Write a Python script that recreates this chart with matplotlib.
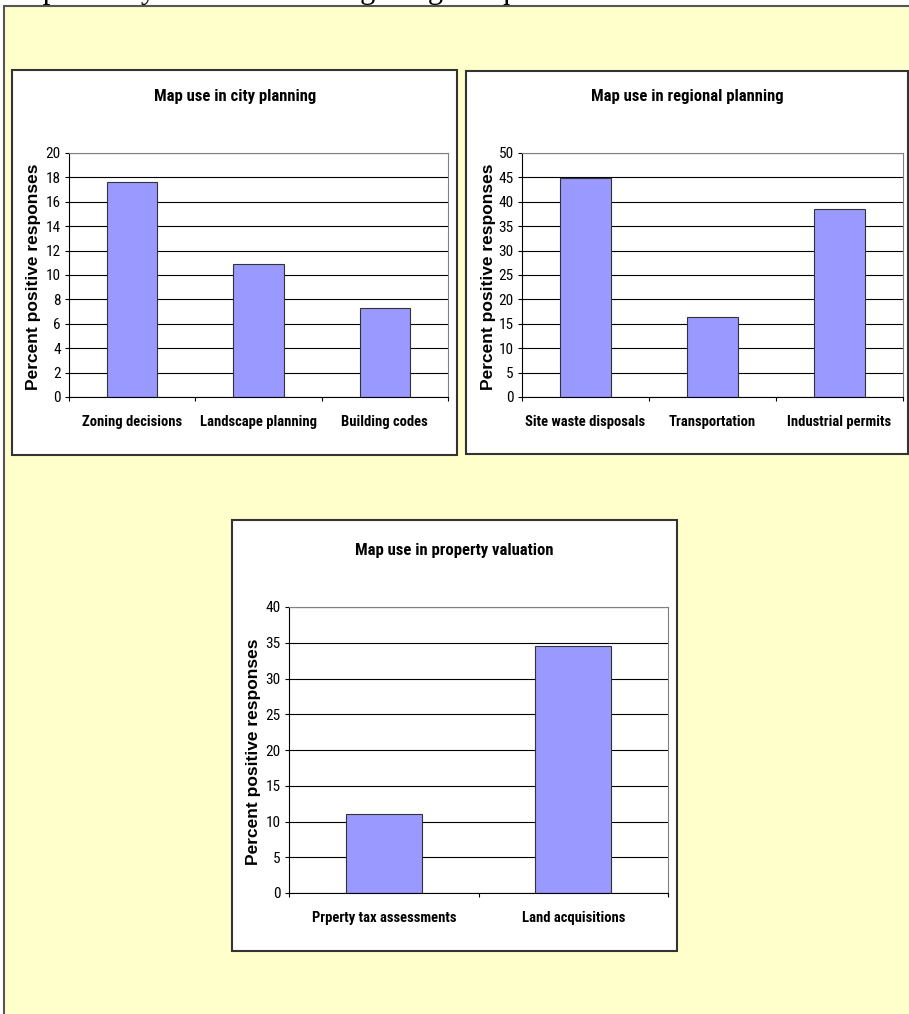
import matplotlib
matplotlib.use("Agg")
import matplotlib.pyplot as plt
from matplotlib import font_manager
from matplotlib.font_manager import FontProperties
from matplotlib.patches import Rectangle
import numpy as np

# --- data -------------------------------------------------------------
city_categories = ["Zoning decisions", "Landscape planning", "Building codes"]
city_values = [17.6, 10.9, 7.3]

regional_categories = ["Site waste disposals", "Transportation", "Industrial permits"]
regional_values = [44.9, 16.3, 38.5]

property_categories = ["Prperty tax assessments", "Land acquisitions"]
property_values = [11.0, 34.5]

y_label = "Percent positive responses"
header_text = "Map uses by the value of the geological qualities."

# --- fonts: prefer a narrow sans face for the chart text -------------
def _is_bold(f):
    w = f.weight
    if isinstance(w, str):
        return w in ("bold", "heavy", "extra bold", "black", "semibold", "demibold")
    return w >= 600


def narrow_font(bold):
    prefs = ["Liberation Sans Narrow", "Arial Narrow", "Roboto Condensed",
             "Open Sans Condensed", "DejaVu Sans"]
    cands = []
    for f in font_manager.fontManager.ttflist:
        condensed = (f.stretch in ("condensed", "semi-condensed", "extra-condensed")
                     or "Narrow" in f.name or "Condensed" in f.name
                     or "Condensed" in f.fname)
        if not condensed or f.style != "normal" or _is_bold(f) != bold:
            continue
        rank = prefs.index(f.name) if f.name in prefs else len(prefs)
        cands.append((rank, f.fname))
    if cands:
        cands.sort()
        return FontProperties(fname=cands[0][1]), 1.0
    return FontProperties(family=["Liberation Sans", "DejaVu Sans"],
                          weight="bold" if bold else "normal"), 0.84


FONT_REG, SCALE_REG = narrow_font(False)
FONT_BOLD, SCALE_BOLD = narrow_font(True)

BAR_COLOR = "#9999FF"
PAGE_COLOR = "#FFFFCC"

W, H = 909, 1014
fig = plt.figure(figsize=(W / 100, H / 100), dpi=100)
fig.patch.set_facecolor("white")


def fx(x):
    return x / W


def fy(y):
    return 1 - y / H


def box(x0, y0, x1, y1, **kw):
    r = Rectangle((fx(x0), fy(y1)), (x1 - x0) / W, (y1 - y0) / H,
                  transform=fig.transFigure, **kw)
    fig.add_artist(r)


def sized(fp, scale, size):
    p = fp.copy()
    p.set_size(size * scale)
    return p


# page background with its frame
box(4, 6, 915, 1025, facecolor=PAGE_COLOR, edgecolor="#555555", linewidth=1.5, zorder=0)

# line of body text running off the top of the page
fig.text(fx(2), fy(-1.5), header_text, family=["Liberation Serif", "DejaVu Serif"],
         fontsize=22, ha="left", va="baseline")


def panel(frame, plot, title_xy, ylab_xy, title, cats, vals, ymax, ystep):
    box(*frame, facecolor="white", edgecolor="#333333", linewidth=1.5, zorder=1)
    x0, y0, x1, y1 = plot
    ax = fig.add_axes([fx(x0), fy(y1), (x1 - x0) / W, (y1 - y0) / H])
    ax.set_zorder(2)
    pos = np.arange(len(cats))
    ax.bar(pos, vals, width=0.4, color=BAR_COLOR, edgecolor="#333333",
           linewidth=0.8, zorder=2)
    ax.set_xlim(-0.5, len(cats) - 0.5)
    ax.set_ylim(0, ymax)
    ticks = np.arange(0, ymax + ystep / 2, ystep)
    ax.set_yticks(ticks)
    ax.set_yticklabels([f"{t:g}" for t in ticks], fontproperties=sized(FONT_REG, SCALE_REG, 11))
    ax.yaxis.grid(True, color="black", linewidth=0.8)
    ax.set_axisbelow(True)
    ax.set_facecolor("white")
    for s in ("top", "right"):
        ax.spines[s].set_color("#808080")
        ax.spines[s].set_linewidth(0.8)
    for s in ("left", "bottom"):
        ax.spines[s].set_color("black")
        ax.spines[s].set_linewidth(0.8)
    ax.set_xticks(pos)
    ax.set_xticklabels(cats, fontproperties=sized(FONT_BOLD, SCALE_BOLD, 10.5))
    ax.tick_params(axis="x", which="major", length=0, pad=13)
    ax.set_xticks(np.arange(-0.5, len(cats)), minor=True)
    ax.tick_params(axis="x", which="minor", length=3, width=0.8, direction="out")
    ax.tick_params(axis="y", length=3, width=0.8, pad=3)
    fig.text(fx(title_xy[0]), fy(title_xy[1]), title, ha="center", va="center",
             fontproperties=sized(FONT_BOLD, SCALE_BOLD, 12))
    fig.text(fx(ylab_xy[0]), fy(ylab_xy[1]), y_label, rotation=90, ha="center",
             va="center", family=["Liberation Sans", "DejaVu Sans"],
             fontweight="bold", fontsize=12.5)
    return ax


panel((12, 70, 457, 455), (69, 153, 448, 397), (235, 97), (34, 277),
      "Map use in city planning", city_categories, city_values, 20, 2)
panel((466, 71, 908, 454), (522, 153, 903, 397), (687, 97), (488, 277),
      "Map use in regional planning", regional_categories, regional_values, 50, 5)
panel((232, 520, 677, 951), (289, 607, 668, 893), (454, 550), (254, 752),
      "Map use in property valuation", property_categories, property_values, 40, 5)

fig.savefig("out.png", dpi=100)
